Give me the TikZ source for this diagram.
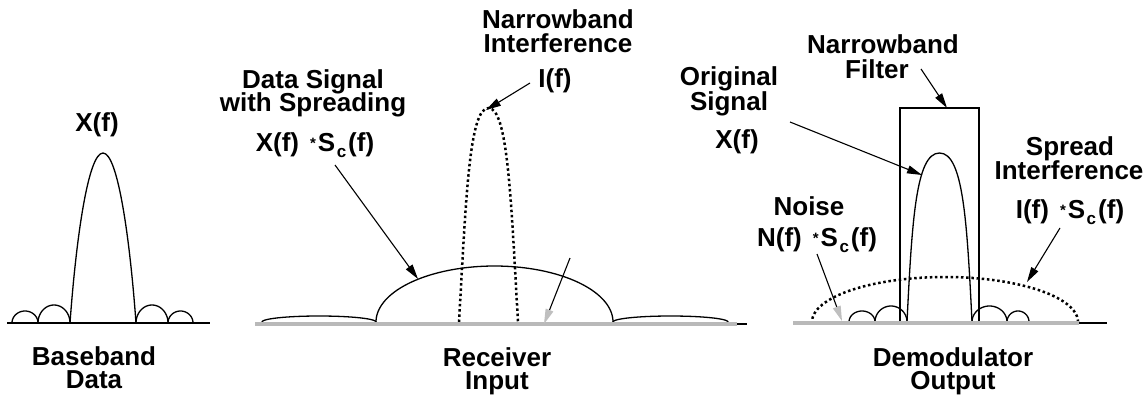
\documentclass[tikz,border=0pt]{standalone}
\usepackage{fontspec}
\setmainfont{Liberation Sans}
\usetikzlibrary{arrows.meta}
\newcommand{\convol}[1]{#1\hspace{11pt}\raisebox{2.5pt}{\fontsize{15}{15}\selectfont *}\hspace{2pt}S\hspace{1.5pt}\raisebox{-6pt}{\fontsize{17}{17}\selectfont c}\hspace{2pt}(f)}
\begin{document}
\begin{tikzpicture}[x=1pt,y=-1pt,
  lbl/.style={font=\fontsize{26}{26}\selectfont\bfseries, anchor=base, inner sep=0pt, text height=18pt, text depth=3pt},
  curve/.style={line width=1.3pt},
  dots/.style={line width=2.5pt, dash pattern=on 2.5pt off 2.7pt},
  gline/.style={line width=4pt, gray!55},
  ptr/.style={line width=1.1pt, -{Triangle[length=15pt,width=8pt]}},
  gptr/.style={line width=1.1pt, -{Triangle[length=15pt,width=8pt,color=gray!50]}}]
\useasboundingbox (0,0) rectangle (1148,399);

% ---------- Panel 1: Baseband data ----------
\draw[line width=1.3pt] (7,323) -- (210,323);
\draw[curve] (70,323) .. controls (76,240) and (88,153) .. (103,153)
             .. controls (118,153) and (130,240) .. (136,323);
\draw[curve] plot[domain=0:180,samples=40] ({25+13*cos(\x)},{323-12*sin(\x)});
\draw[curve] plot[domain=0:180,samples=40] ({54+16*cos(\x)},{323-18*sin(\x)});
\draw[curve] plot[domain=0:180,samples=40] ({152+16*cos(\x)},{323-18*sin(\x)});
\draw[curve] plot[domain=0:180,samples=40] ({180.5+12.5*cos(\x)},{323-12*sin(\x)});
\node[lbl] (xf1) at (97,131) {X(f)};
\node[lbl] (bb1) at (94,365) {Baseband};
\node[lbl] (bb2) at (94,388) {Data};

% ---------- Panel 2: Receiver input ----------
\draw[curve] plot[domain=0:180,samples=40] ({319+57*cos(\x)},{322-6*sin(\x)});
\draw[curve] plot[domain=0:180,samples=40] ({670.5+57.5*cos(\x)},{322-6*sin(\x)});
\draw[curve] plot[domain=0:180,samples=80] ({494.5+118.5*cos(\x)},{322-56*sin(\x)});
\draw[dots] (459,322) .. controls (466,200) and (469,108) .. (488.5,108)
            .. controls (508,108) and (511,200) .. (518,322);
\draw[gline] (255,324) -- (737,324);
\draw[line width=1.1pt] (737,324) -- (747,324);
\node[lbl] (ds1) at (313,88) {Data Signal};
\node[lbl] (ds2) at (313,111) {with Spreading};
\node[lbl] (ds3) at (315,151) {\convol{X(f)}};
\node[lbl] (ni1) at (558,28) {Narrowband};
\node[lbl] (ni2) at (558,52) {Interference};
\node[lbl] (ni3) at (555,87) {I(f)};
\node[lbl] (ri1) at (497,366) {Receiver};
\node[lbl] (ri2) at (497,389) {Input};
\coordinate (a1s) at (335,165); \coordinate (a1e) at (418,279);
\coordinate (a2s) at (530,83);  \coordinate (a2e) at (486,110);
\coordinate (a3s) at (570,258); \coordinate (a3e) at (544,324);
\draw[ptr] (a1s) -- (a1e);
\draw[ptr] (a2s) -- (a2e);
\draw[gptr] (a3s) -- (a3e);

% ---------- Panel 3: Demodulator output ----------
\draw[line width=1.1pt] (900,322) -- (900,108) -- (979,108) -- (979,322);
\draw[curve] (907,322) .. controls (912,220) and (916,153) .. (939.5,153)
             .. controls (963,153) and (967,220) .. (972,322);
\draw[curve] plot[domain=0:180,samples=40] ({862+13*cos(\x)},{322-11*sin(\x)});
\draw[curve] plot[domain=0:180,samples=40] ({891+16*cos(\x)},{322-16*sin(\x)});
\draw[curve] plot[domain=0:180,samples=40] ({989.5+17.5*cos(\x)},{322-16*sin(\x)});
\draw[curve] plot[domain=0:180,samples=40] ({1018+11*cos(\x)},{322-11*sin(\x)});
\draw[dots] plot[domain=0:180,samples=80] ({945+133*cos(\x)},{322-45*sin(\x)});
\draw[gline] (793,323) -- (1079,323);
\draw[line width=1.1pt] (1079,323) -- (1107,323);
\node[lbl] (nf1) at (883,53) {Narrowband};
\node[lbl] (nf2) at (877,78) {Filter};
\node[lbl] (os1) at (729,85) {Original};
\node[lbl] (os2) at (729,110) {Signal};
\node[lbl] (os3) at (737,148) {X(f)};
\node[lbl] (no1) at (809,215) {Noise};
\node[lbl] (no2) at (817,246) {\convol{N(f)}};
\node[lbl] (si1) at (1070,155) {Spread};
\node[lbl] (si2) at (1069,179) {Interference};
\node[lbl] (si3) at (1070,218) {\convol{I(f)}};
\node[lbl] (dm1) at (953,366) {Demodulator};
\node[lbl] (dm2) at (953,389) {Output};
\coordinate (a4s) at (790,122);  \coordinate (a4e) at (922,175);
\coordinate (a5s) at (921,69);   \coordinate (a5e) at (947,108);
\coordinate (a6s) at (817,254);  \coordinate (a6e) at (842,321);
\coordinate (a7s) at (1060,228); \coordinate (a7e) at (1027,282);
\draw[ptr] (a4s) -- (a4e);
\draw[ptr] (a5s) -- (a5e);
\draw[gptr] (a6s) -- (a6e);
\draw[ptr] (a7s) -- (a7e);
\end{tikzpicture}
\end{document}
